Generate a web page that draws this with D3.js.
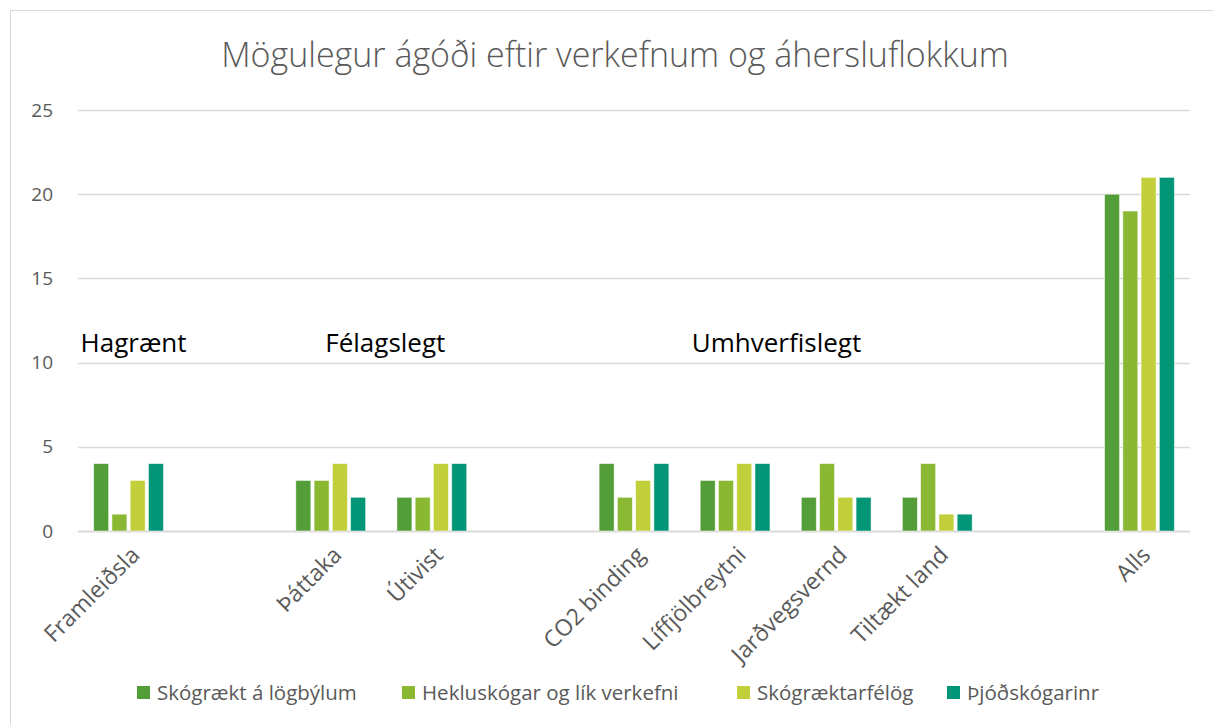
<!DOCTYPE html>
<html>
<head>
<meta charset="utf-8">
<script src="https://cdn.jsdelivr.net/npm/d3@7"></script>
<style>
  body { margin: 0; background: #fff; }
  text { font-family: "Open Sans", "Noto Sans", sans-serif; }
</style>
</head>
<body>
<svg id="chart" width="1213" height="725"></svg>
<script>
// categories (blank slots are gaps between groups)
var categories = ["Framleiðsla", "", "Þáttaka", "Útivist", "", "CO2 binding", "Líffjölbreytni", "Jarðvegsvernd", "Tiltækt land", "", "Alls"];
var seriesNames = ["Skógrækt á lögbýlum", "Hekluskógar og lík verkefni", "Skógræktarfélög", "Þjóðskógarinr"];
var lobylum   = [4, null, 3, 2, null, 4, 3, 2, 2, null, 20];
var hekla     = [1, null, 3, 2, null, 2, 3, 4, 4, null, 19];
var felog     = [3, null, 4, 4, null, 3, 4, 2, 1, null, 21];
var thjod     = [4, null, 2, 4, null, 4, 4, 2, 1, null, 21];
var yTicks = [0, 5, 10, 15, 20, 25];
var groupLabels = [
    { text: "Hagrænt", at: 0.05 },
    { text: "Félagslegt", at: 2.54 },
    { text: "Umhverfislegt", at: 6.41 }
];

var colors = ["#549E39", "#8AB833", "#C0CF3A", "#029676"];
var series = [lobylum, hekla, felog, thjod];

var svg = d3.select("#chart");

// chart frame
svg.append("rect")
    .attr("x", 10.5).attr("y", 10.5)
    .attr("width", 1240).attr("height", 760)
    .attr("fill", "#fff")
    .attr("stroke", "#d9d9d9");

var x = d3.scaleBand()
    .domain(d3.range(categories.length))
    .range([78, 1190])
    .paddingInner(0.31)
    .paddingOuter(0.155);

var xInner = d3.scaleBand()
    .domain(d3.range(series.length))
    .range([0, x.bandwidth()])
    .paddingInner(0.18);

var y = d3.scaleLinear()
    .domain([0, 25])
    .range([531, 110]);

// gridlines
svg.append("g")
    .selectAll("line")
    .data(yTicks)
    .enter()
    .append("line")
    .attr("x1", 78).attr("x2", 1190)
    .attr("y1", function(d) { return Math.round(y(d)) + 0.5; })
    .attr("y2", function(d) { return Math.round(y(d)) + 0.5; })
    .attr("stroke", "#d9d9d9")
    .attr("stroke-width", function(d) { return d === 0 ? 2 : 1.3; });

// y tick labels
svg.append("g")
    .selectAll("text")
    .data(yTicks)
    .enter()
    .append("text")
    .attr("x", 53)
    .attr("y", function(d) { return y(d); })
    .attr("dy", "0.35em")
    .attr("text-anchor", "end")
    .attr("fill", "#595959")
    .style("font-size", "19px")
    .text(function(d) { return d; });

// bars
var bars = svg.append("g").attr("class", "bars");
series.forEach(function(vals, s) {
    bars.append("g")
        .selectAll("rect")
        .data(vals.map(function(v, i) { return { i: i, v: v }; }).filter(function(d) { return d.v !== null; }))
        .enter()
        .append("rect")
        .attr("x", function(d) { return x(d.i) + xInner(s); })
        .attr("y", function(d) { return y(d.v); })
        .attr("width", xInner.bandwidth())
        .attr("height", function(d) { return y(0) - y(d.v); })
        .attr("fill", colors[s])
        .attr("stroke", "#fff")
        .attr("stroke-opacity", 0.6)
        .attr("stroke-width", 0.8);
});

// x category labels, rotated
svg.append("g")
    .selectAll("text")
    .data(categories.map(function(c, i) { return { c: c, i: i }; }).filter(function(d) { return d.c !== ""; }))
    .enter()
    .append("text")
    .attr("transform", function(d) {
        return "translate(" + (x(d.i) + x.bandwidth() / 2 + 1) + ",545) rotate(-45)";
    })
    .attr("text-anchor", "end")
    .attr("dy", "0.7em")
    .attr("fill", "#595959")
    .style("font-size", "23px")
    .text(function(d) { return d.c; });

// group annotations
svg.append("g")
    .selectAll("text")
    .data(groupLabels)
    .enter()
    .append("text")
    .attr("x", function(d) { return x(Math.floor(d.at)) + (d.at % 1) * x.step() + x.bandwidth() / 2; })
    .attr("y", 352)
    .attr("text-anchor", "middle")
    .attr("fill", "#000")
    .style("font-size", "26px")
    .text(function(d) { return d.text; });

// title
svg.append("text")
    .attr("x", 615)
    .attr("y", 67)
    .attr("text-anchor", "middle")
    .attr("fill", "#595959")
    .style("font-size", "34px")
    .style("font-weight", 300)
    .text("Mögulegur ágóði eftir verkefnum og áhersluflokkum");

// legend
var legendX = [137, 402, 737, 947];
var legend = svg.append("g")
    .selectAll("g")
    .data(seriesNames)
    .enter()
    .append("g")
    .attr("transform", function(d, i) { return "translate(" + legendX[i] + ",686)"; });

legend.append("rect")
    .attr("width", 13).attr("height", 13)
    .attr("fill", function(d, i) { return colors[i]; });

legend.append("text")
    .attr("x", 20)
    .attr("y", 7)
    .attr("dy", "0.35em")
    .attr("fill", "#595959")
    .style("font-size", "20.5px")
    .text(function(d) { return d; });
</script>
</body>
</html>
